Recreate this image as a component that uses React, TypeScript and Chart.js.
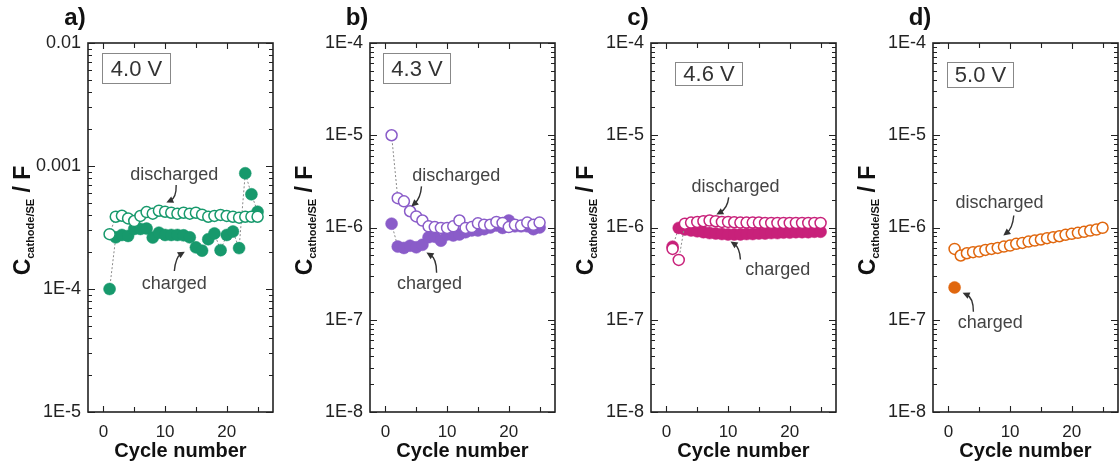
import React, { useEffect, useRef } from 'react';
import { Chart, registerables } from 'chart.js';

Chart.register(...registerables);

// ---------- data ----------
const cycles = [1, 2, 3, 4, 5, 6, 7, 8, 9, 10, 11, 12, 13, 14, 15, 16, 17, 18, 19, 20, 21, 22, 23, 24, 25];

const aDischarged = [2.79e-4, 3.87e-4, 3.94e-4, 3.75e-4, 3.57e-4, 3.93e-4, 4.22e-4, 4.1e-4, 4.33e-4, 4.25e-4, 4.17e-4, 4.1e-4, 4.17e-4, 4.1e-4, 4.17e-4, 4.02e-4, 3.87e-4, 3.93e-4, 4.0e-4, 3.93e-4, 3.87e-4, 3.8e-4, 3.87e-4, 3.87e-4, 3.87e-4];
const aCharged = [1.0e-4, 2.63e-4, 2.75e-4, 2.7e-4, 3.08e-4, 3.08e-4, 3.1e-4, 2.62e-4, 2.87e-4, 2.75e-4, 2.75e-4, 2.75e-4, 2.73e-4, 2.63e-4, 2.18e-4, 2.05e-4, 2.54e-4, 2.83e-4, 2.07e-4, 2.75e-4, 2.93e-4, 2.15e-4, 8.73e-4, 5.89e-4, 4.25e-4];

const bDischarged = [1.0e-5, 2.08e-6, 1.92e-6, 1.5e-6, 1.32e-6, 1.19e-6, 1.03e-6, 1.01e-6, 9.9e-7, 9.9e-7, 1.03e-6, 1.19e-6, 9.9e-7, 1.01e-6, 1.11e-6, 1.07e-6, 1.07e-6, 1.15e-6, 1.12e-6, 1.01e-6, 1.07e-6, 1.05e-6, 1.13e-6, 1.07e-6, 1.13e-6];
const bCharged = [1.1e-6, 6.21e-7, 6.0e-7, 6.35e-7, 6.1e-7, 6.5e-7, 7.85e-7, 7.95e-7, 7.2e-7, 8.4e-7, 8.2e-7, 8.4e-7, 8.9e-7, 9.3e-7, 9.3e-7, 9.6e-7, 1.0e-6, 1.05e-6, 9.9e-7, 1.19e-6, 1.03e-6, 1.03e-6, 1.03e-6, 9.6e-7, 1.0e-6];

const cDischarged = [5.86e-7, 4.45e-7, 1.1e-6, 1.13e-6, 1.15e-6, 1.17e-6, 1.19e-6, 1.17e-6, 1.15e-6, 1.15e-6, 1.14e-6, 1.13e-6, 1.13e-6, 1.13e-6, 1.13e-6, 1.12e-6, 1.12e-6, 1.12e-6, 1.12e-6, 1.12e-6, 1.12e-6, 1.12e-6, 1.12e-6, 1.12e-6, 1.12e-6];
const cCharged = [6.2e-7, 9.9e-7, 9.5e-7, 9.3e-7, 9.1e-7, 8.9e-7, 8.7e-7, 8.6e-7, 8.5e-7, 8.4e-7, 8.4e-7, 8.4e-7, 8.5e-7, 8.5e-7, 8.6e-7, 8.6e-7, 8.7e-7, 8.7e-7, 8.8e-7, 8.8e-7, 8.9e-7, 8.9e-7, 8.9e-7, 9.0e-7, 9.0e-7];

const dDischarged = [5.86e-7, 4.97e-7, 5.26e-7, 5.4e-7, 5.49e-7, 5.72e-7, 5.86e-7, 6.01e-7, 6.21e-7, 6.37e-7, 6.65e-7, 6.81e-7, 7.04e-7, 7.22e-7, 7.41e-7, 7.66e-7, 7.85e-7, 8.04e-7, 8.33e-7, 8.54e-7, 8.76e-7, 8.97e-7, 9.27e-7, 9.5e-7, 9.93e-7];
const dChargedCycles = [1];
const dCharged = [2.24e-7];

const xTickValues = [0, 5, 10, 15, 20, 25];
const xTickLabels = ['0', '', '10', '', '20', ''];
const aYTickValues = [1e-5, 1e-4, 1e-3, 1e-2];
const aYTickLabels = ['1E-5', '1E-4', '0.001', '0.01'];
const bYTickValues = [1e-8, 1e-7, 1e-6, 1e-5, 1e-4];
const bYTickLabels = ['1E-8', '1E-7', '1E-6', '1E-5', '1E-4'];
const minorFactors = [2, 3, 4, 5, 6, 7, 8, 9];

const panelLetters = ['a)', 'b)', 'c)', 'd)'];
const voltages = ['4.0 V', '4.3 V', '4.6 V', '5.0 V'];

// ---------- panel config ----------
type Ann = { text: string; tx: number; ty: number; from: [number, number]; ctrl: [number, number]; to: [number, number] };

const FONT = '"Liberation Sans", Arial, Helvetica, sans-serif';

const panels = [
  {
    letter: panelLetters[0], voltage: voltages[0], color: '#17996c',
    yMin: 1e-5, yMax: 1e-2, yTicks: aYTickValues, yLabels: aYTickLabels,
    dis: { x: cycles, y: aDischarged }, chg: { x: cycles, y: aCharged },
    box: { dx: 14, dy: 10, w: 68, h: 30 },
    anns: [
      { text: 'discharged', tx: 11.5, ty: 8.45e-4, from: [11.8, 7.0e-4], ctrl: [11.85, 5.5e-4], to: [10.2, 5.04e-4] },
      { text: 'charged', tx: 11.5, ty: 1.1e-4, from: [11.5, 1.4e-4], ctrl: [11.7, 1.82e-4], to: [13.2, 2.01e-4] },
    ] as Ann[],
  },
  {
    letter: panelLetters[1], voltage: voltages[1], color: '#8a5cc9',
    yMin: 1e-8, yMax: 1e-4, yTicks: bYTickValues, yLabels: bYTickLabels,
    dis: { x: cycles, y: bDischarged }, chg: { x: cycles, y: bCharged },
    box: { dx: 13, dy: 10, w: 67, h: 30 },
    anns: [
      { text: 'discharged', tx: 11.5, ty: 3.58e-6, from: [5.85, 2.79e-6], ctrl: [5.7, 2.07e-6], to: [4.2, 1.69e-6] },
      { text: 'charged', tx: 7.15, ty: 2.46e-7, from: [8.3, 3.24e-7], ctrl: [8.3, 4.6e-7], to: [6.65, 5.35e-7] },
    ] as Ann[],
  },
  {
    letter: panelLetters[2], voltage: voltages[2], color: '#c8217a',
    yMin: 1e-8, yMax: 1e-4, yTicks: bYTickValues, yLabels: bYTickLabels,
    dis: { x: cycles, y: cDischarged }, chg: { x: cycles, y: cCharged },
    box: { dx: 24, dy: 19, w: 67, h: 23 },
    anns: [
      { text: 'discharged', tx: 11.2, ty: 2.72e-6, from: [10.1, 2.12e-6], ctrl: [9.9, 1.61e-6], to: [8.1, 1.38e-6] },
      { text: 'charged', tx: 18.05, ty: 3.49e-7, from: [12.0, 4.49e-7], ctrl: [11.9, 6.07e-7], to: [10.4, 7.05e-7] },
    ] as Ann[],
  },
  {
    letter: panelLetters[3], voltage: voltages[3], color: '#e0670e',
    yMin: 1e-8, yMax: 1e-4, yTicks: bYTickValues, yLabels: bYTickLabels,
    dis: { x: cycles, y: dDischarged }, chg: { x: dChargedCycles, y: dCharged },
    box: { dx: 14, dy: 19, w: 66, h: 25 },
    anns: [
      { text: 'discharged', tx: 8.3, ty: 1.82e-6, from: [10.6, 1.35e-6], ctrl: [10.4, 9.77e-7], to: [8.9, 8.18e-7] },
      { text: 'charged', tx: 6.8, ty: 9.27e-8, from: [4.05, 1.22e-7], ctrl: [4.05, 1.74e-7], to: [2.3, 1.96e-7] },
    ] as Ann[],
  },
];

const panelLefts = [0, 282, 563, 845];
const PANEL_W = 280;
const PANEL_H = 468;

function makeDecor(p: any) {
  return {
    id: 'decor',
    afterDraw(chart: any) {
      const { ctx, chartArea: ca, scales } = chart;
      const xs = scales.x;
      const ys = scales.y;
      ctx.save();
      // frame
      ctx.strokeStyle = '#222';
      ctx.lineWidth = 1.6;
      ctx.strokeRect(ca.left, ca.top, ca.right - ca.left, ca.bottom - ca.top);
      // y ticks (both sides, inward)
      ctx.lineWidth = 1.1;
      ctx.beginPath();
      for (let i = 0; i < p.yTicks.length; i++) {
        const dec = p.yTicks[i];
        const y = Math.round(ys.getPixelForValue(dec)) + 0.5;
        ctx.moveTo(ca.left, y); ctx.lineTo(ca.left + 7, y);
        ctx.moveTo(ca.right, y); ctx.lineTo(ca.right - 7, y);
        if (i < p.yTicks.length - 1) {
          for (const f of minorFactors) {
            const ym = Math.round(ys.getPixelForValue(dec * f)) + 0.5;
            ctx.moveTo(ca.left, ym); ctx.lineTo(ca.left + 4, ym);
            ctx.moveTo(ca.right, ym); ctx.lineTo(ca.right - 4, ym);
          }
        }
      }
      for (let i = 0; i < xTickValues.length; i++) {
        const x = Math.round(xs.getPixelForValue(xTickValues[i])) + 0.5;
        const len = xTickLabels[i] ? 6 : 5;
        ctx.moveTo(x, ca.bottom); ctx.lineTo(x, ca.bottom - len);
        ctx.moveTo(x, ca.top); ctx.lineTo(x, ca.top + len);
      }
      ctx.stroke();

      // panel letter
      ctx.fillStyle = '#111';
      ctx.font = `bold 24px ${FONT}`;
      ctx.textAlign = 'center';
      ctx.textBaseline = 'middle';
      ctx.fillText(p.letter, ca.left - 13, 18);

      // voltage box
      const bx = ca.left + p.box.dx;
      const by = ca.top + p.box.dy;
      ctx.strokeStyle = '#888';
      ctx.lineWidth = 1;
      ctx.strokeRect(bx + 0.5, by + 0.5, p.box.w, p.box.h);
      ctx.fillStyle = '#333';
      ctx.font = `22px ${FONT}`;
      ctx.fillText(p.voltage, bx + p.box.w / 2 + 0.5, by + p.box.h / 2 + 1.5);

      // x title
      ctx.fillStyle = '#111';
      ctx.font = `bold 20px ${FONT}`;
      ctx.fillText('Cycle number', (ca.left + ca.right) / 2, 451);

      // y title (rotated, with subscript)
      const big = `bold 23px ${FONT}`;
      const small = `bold 11px ${FONT}`;
      ctx.font = big;
      const wC = ctx.measureText('C').width;
      const wRest = ctx.measureText(' / F').width;
      ctx.font = small;
      const wSub = ctx.measureText('cathode/SE').width;
      const total = wC + wSub + wRest;
      const cy = (ca.top + ca.bottom) / 2 - 7;
      ctx.save();
      ctx.translate(ca.left - 58, cy);
      ctx.rotate(-Math.PI / 2);
      ctx.textAlign = 'left';
      ctx.textBaseline = 'alphabetic';
      let cx = -total / 2;
      ctx.font = big;
      ctx.fillText('C', cx, 0);
      cx += wC;
      ctx.font = small;
      ctx.fillText('cathode/SE', cx, 4);
      cx += wSub;
      ctx.font = big;
      ctx.fillText(' / F', cx, 0);
      ctx.restore();

      // annotations
      for (const a of p.anns as Ann[]) {
        ctx.fillStyle = '#444';
        ctx.font = `18px ${FONT}`;
        ctx.textAlign = 'center';
        ctx.textBaseline = 'middle';
        ctx.fillText(a.text, xs.getPixelForValue(a.tx), ys.getPixelForValue(a.ty));
        const fx = xs.getPixelForValue(a.from[0]), fy = ys.getPixelForValue(a.from[1]);
        const qx = xs.getPixelForValue(a.ctrl[0]), qy = ys.getPixelForValue(a.ctrl[1]);
        const tx = xs.getPixelForValue(a.to[0]), ty = ys.getPixelForValue(a.to[1]);
        const ang = Math.atan2(ty - qy, tx - qx);
        const hl = 7;
        const ex = tx - Math.cos(ang) * hl * 0.6, ey = ty - Math.sin(ang) * hl * 0.6;
        ctx.strokeStyle = '#333';
        ctx.lineWidth = 1.4;
        ctx.beginPath();
        ctx.moveTo(fx, fy);
        ctx.quadraticCurveTo(qx, qy, ex, ey);
        ctx.stroke();
        ctx.fillStyle = '#333';
        ctx.beginPath();
        ctx.moveTo(tx, ty);
        ctx.lineTo(tx - Math.cos(ang) * hl + Math.sin(ang) * 3.5, ty - Math.sin(ang) * hl - Math.cos(ang) * 3.5);
        ctx.lineTo(tx - Math.cos(ang) * hl - Math.sin(ang) * 3.5, ty - Math.sin(ang) * hl + Math.cos(ang) * 3.5);
        ctx.closePath();
        ctx.fill();
      }
      ctx.restore();
    },
  };
}

function Panel({ p, left }: { p: any; left: number }) {
  const ref = useRef<HTMLCanvasElement | null>(null);
  useEffect(() => {
    if (!ref.current) return;
    const toPts = (s: { x: number[]; y: number[] }) => s.x.map((x, i) => ({ x, y: s.y[i] }));
    const chart = new Chart(ref.current, {
      type: 'line',
      data: {
        datasets: [
          {
            label: 'discharged',
            data: toPts(p.dis),
            borderColor: '#8a8a8a',
            borderWidth: 1,
            borderDash: [2, 2],
            pointRadius: 5.5,
            pointBorderWidth: 1.5,
            pointBorderColor: p.color,
            pointBackgroundColor: '#ffffff',
            pointStyle: 'circle',
            tension: 0,
          },
          {
            label: 'charged',
            data: toPts(p.chg),
            borderColor: '#8a8a8a',
            borderWidth: 1,
            borderDash: [2, 2],
            pointRadius: 6,
            pointBorderWidth: 0.5,
            pointBorderColor: p.color,
            pointBackgroundColor: p.color,
            pointStyle: 'circle',
            tension: 0,
          },
        ],
      },
      options: {
        animation: false,
        responsive: false,
        events: [],
        layout: { padding: { top: 43, right: 7, left: 0, bottom: 0 } },
        plugins: { legend: { display: false }, tooltip: { enabled: false } },
        scales: {
          x: {
            type: 'linear',
            min: -2.5,
            max: 27.5,
            grid: { display: false, drawTicks: false },
            border: { display: false },
            afterBuildTicks: (s: any) => { s.ticks = xTickValues.map((v) => ({ value: v })); },
            afterFit: (s: any) => { s.height = 56; },
            ticks: {
              autoSkip: false,
              maxRotation: 0,
              padding: 10,
              color: '#222',
              font: { size: 17, family: FONT },
              callback: (_v: any, i: number) => xTickLabels[i],
            },
          },
          y: {
            type: 'logarithmic',
            min: p.yMin,
            max: p.yMax,
            grid: { display: false, drawTicks: false },
            border: { display: false },
            afterBuildTicks: (s: any) => { s.ticks = p.yTicks.map((v: number) => ({ value: v })); },
            afterFit: (s: any) => { s.width = 88; },
            ticks: {
              autoSkip: false,
              padding: 7,
              color: '#222',
              font: { size: 18, family: FONT },
              callback: (_v: any, i: number) => p.yLabels[i],
            },
          },
        },
      },
      plugins: [makeDecor(p)],
    } as any);
    return () => chart.destroy();
  }, [p]);
  return (
    <div style={{ position: 'absolute', left, top: 0, width: PANEL_W, height: PANEL_H }}>
      <canvas ref={ref} width={PANEL_W} height={PANEL_H} style={{ display: 'block', width: PANEL_W, height: PANEL_H }} />
    </div>
  );
}

export default function App() {
  return (
    <div style={{ position: 'fixed', left: 0, top: 0, width: 1120, height: 468, background: '#fff', overflow: 'hidden' }}>
      {panels.map((p, i) => (
        <Panel key={i} p={p} left={panelLefts[i]} />
      ))}
    </div>
  );
}
